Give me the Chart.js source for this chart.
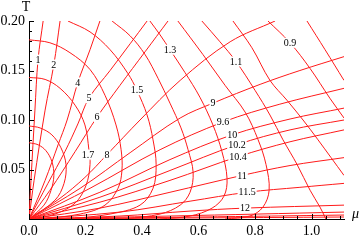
<!DOCTYPE html>
<html>
<head>
<meta charset="utf-8">
<script src="https://cdn.jsdelivr.net/npm/chart.js@4"></script>
<style>
  html, body { margin: 0; padding: 0; background: #fff; }
</style>
</head>
<body>
<canvas id="chart" width="360" height="240"></canvas>
<script>
// contour lines, points are [mu, T]
// lines fanning out of the origin
const ray1 = [[0, 0], [0.007, 0.039], [0.021, 0.110], [0.032, 0.161], [0.050, 0.200]];
const ray2 = [[0, 0], [0.018, 0.039], [0.057, 0.110], [0.088, 0.156], [0.110, 0.200]];
const ray4 = [[0, 0], [0.057, 0.039], [0.103, 0.075], [0.135, 0.100], [0.173, 0.138], [0.216, 0.171], [0.251, 0.200]];
const ray5 = [[0, 0], [0.067, 0.036], [0.127, 0.068], [0.173, 0.096], [0.212, 0.122], [0.287, 0.150], [0.358, 0.177], [0.418, 0.200]];
const ray6 = [[0, 0], [0.074, 0.029], [0.163, 0.068], [0.241, 0.103], [0.322, 0.135], [0.411, 0.169], [0.492, 0.200]];
const ray8 = [[0, 0], [0.110, 0.021], [0.198, 0.042], [0.276, 0.065], [0.393, 0.100], [0.535, 0.140], [0.712, 0.179], [0.871, 0.200]];
const ray9 = [[0, 0], [0.181, 0.031], [0.358, 0.067], [0.535, 0.102], [0.651, 0.117], [0.818, 0.136], [0.959, 0.150], [1.115, 0.164]];
const ray96 = [[0, 0], [0.216, 0.031], [0.464, 0.070], [0.687, 0.098], [0.888, 0.116], [1.115, 0.132]];
const ray10 = [[0, 0], [0.251, 0.027], [0.499, 0.060], [0.719, 0.085], [0.924, 0.101], [1.115, 0.112]];
const ray102 = [[0, 0], [0.251, 0.022], [0.499, 0.049], [0.736, 0.075], [0.924, 0.090], [1.115, 0.100]];
const ray104 = [[0, 0], [0.251, 0.017], [0.499, 0.039], [0.740, 0.063], [0.924, 0.078], [1.115, 0.090]];
const ray11 = [[0, 0], [0.251, 0.011], [0.499, 0.027], [0.754, 0.044], [0.924, 0.054], [1.115, 0.062]];
const ray115 = [[0, 0], [0.322, 0.007], [0.570, 0.018], [0.772, 0.027], [0.959, 0.032], [1.115, 0.036]];
const ray12 = [[0, 0], [0.322, 0.003], [0.570, 0.008], [0.765, 0.011], [1.115, 0.014]];
const ray13 = [[0, 0], [0.500, 0.003], [1.115, 0.007]];
const ray14 = [[0, 0], [0.600, 0.002], [1.115, 0.004]];
const ray15 = [[0, 0], [1.115, 0.002]];

// arcs bending back towards the mu axis
const arcA = [[0, 0.077], [0.032, 0.075], [0.060, 0.069], [0.081, 0.058], [0.088, 0.044], [0.078, 0.029], [0.053, 0.014], [0, 0]];
const arcB = [[0, 0.094], [0.039, 0.092], [0.081, 0.085], [0.113, 0.072], [0.131, 0.055], [0.124, 0.036], [0.092, 0.019], [0, 0]];
const arc17 = [[0, 0.143], [0.057, 0.141], [0.110, 0.132], [0.163, 0.115], [0.198, 0.095], [0.212, 0.070], [0.216, 0.055], [0.202, 0.034], [0.163, 0.016], [0.092, 0.005], [0.014, 0]];
const arc16 = [[0, 0.181], [0.074, 0.178], [0.145, 0.168], [0.216, 0.151], [0.269, 0.125], [0.308, 0.095], [0.326, 0.070], [0.329, 0.049], [0.315, 0.031], [0.269, 0.014], [0.181, 0.005], [0.039, 0]];
const arc15 = [[0.138, 0.200], [0.216, 0.189], [0.287, 0.171], [0.350, 0.147], [0.382, 0.130], [0.418, 0.105], [0.439, 0.080], [0.450, 0.055], [0.439, 0.031], [0.393, 0.014], [0.287, 0.005], [0.145, 0]];
const arc14 = [[0.294, 0.200], [0.358, 0.185], [0.411, 0.166], [0.457, 0.142], [0.499, 0.117], [0.538, 0.092], [0.563, 0.070], [0.581, 0.047], [0.570, 0.027], [0.535, 0.014], [0.464, 0.005], [0.340, 0]];
const arc13 = [[0.428, 0.200], [0.464, 0.186], [0.499, 0.171], [0.552, 0.148], [0.605, 0.123], [0.651, 0.095], [0.683, 0.068], [0.701, 0.041], [0.690, 0.023], [0.648, 0.011], [0.570, 0.003], [0.464, 0]];
const arc12 = [[0.527, 0.200], [0.616, 0.166], [0.694, 0.135], [0.765, 0.108], [0.811, 0.080], [0.839, 0.055], [0.850, 0.029], [0.828, 0.012], [0.782, 0.003], [0.694, 0]];
const arc11 = [[0.612, 0.200], [0.676, 0.179], [0.733, 0.159], [0.800, 0.130], [0.853, 0.105], [0.899, 0.080], [0.949, 0.055], [0.995, 0.029], [1.030, 0.012], [1.051, 0]];
const arc10 = [[0.722, 0.200], [0.789, 0.173], [0.853, 0.140], [0.913, 0.120], [0.970, 0.100], [1.023, 0.080], [1.115, 0.044]];
const arc09 = [[0.846, 0.200], [0.924, 0.178], [0.995, 0.152], [1.065, 0.122], [1.115, 0.102]];
const arc08 = [[0.984, 0.200], [1.048, 0.171], [1.115, 0.140]];

// contour labels
const labelText = ['1', '2', '4', '5', '6', '8', '1.7', '1.5', '1.3', '1.1', '0.9', '9', '9.6', '10', '10.2', '10.4', '11', '11.5', '12'];
const labelMu = [0.032, 0.088, 0.173, 0.212, 0.241, 0.276, 0.209, 0.382, 0.499, 0.733, 0.924, 0.651, 0.687, 0.719, 0.736, 0.740, 0.754, 0.772, 0.765];
const labelT = [0.161, 0.156, 0.138, 0.122, 0.103, 0.065, 0.065, 0.130, 0.171, 0.159, 0.178, 0.117, 0.098, 0.085, 0.075, 0.063, 0.044, 0.027, 0.011];

// axes
const xMajor = [0, 0.2, 0.4, 0.6, 0.8, 1.0];
const xTickLabels = ['0.0', '0.2', '0.4', '0.6', '0.8', '1.0'];
const yMajor = [0.05, 0.10, 0.15, 0.20];
const yTickLabels = ['0.05', '0.10', '0.15', '0.20'];

const serif = '"Liberation Serif", "Times New Roman", serif';

const xTicks = [];
for (let i = 0; i <= 22; i++) xTicks.push(i * 0.05);
const yTicks = [];
for (let i = 0; i <= 20; i++) yTicks.push(i * 0.01);

function majorIndex(v, majors) {
  return majors.findIndex(m => Math.abs(m - v) < 1e-6);
}

const curves = [ray1, ray2, ray4, ray5, ray6, ray8, ray9, ray96, ray10, ray102, ray104, ray11, ray115, ray12, ray13, ray14, ray15,
  arcA, arcB, arc17, arc16, arc15, arc14, arc13, arc12, arc11, arc10, arc09, arc08];

const datasets = curves.map(c => ({
  data: c.map(p => ({ x: p[0], y: p[1] })),
  showLine: true,
  borderColor: '#ff1a1a',
  borderWidth: 1,
  pointRadius: 0,
  tension: 0.35,
  fill: false
}));

// inward tick marks and axis names
const axisMarks = {
  id: 'axisMarks',
  afterDraw(chart) {
    const ctx = chart.ctx;
    const xs = chart.scales.x, ys = chart.scales.y;
    const area = chart.chartArea;
    ctx.save();
    ctx.strokeStyle = '#000';
    ctx.lineWidth = 1;
    ctx.beginPath();
    xTicks.forEach(v => {
      const px = Math.round(xs.getPixelForValue(v)) + 0.5;
      const len = majorIndex(v, xMajor) >= 0 ? 5 : 3;
      ctx.moveTo(px, area.bottom);
      ctx.lineTo(px, area.bottom - len);
    });
    yTicks.forEach(v => {
      const py = Math.round(ys.getPixelForValue(v)) + 0.5;
      const len = majorIndex(v, yMajor) >= 0 ? 5 : 3;
      ctx.moveTo(area.left, py);
      ctx.lineTo(area.left + len, py);
    });
    ctx.stroke();
    ctx.fillStyle = '#000';
    ctx.font = '14px ' + serif;
    ctx.textAlign = 'center';
    ctx.fillText('T', area.left - 3, area.top - 10);
    ctx.font = 'italic 14px ' + serif;
    ctx.textAlign = 'left';
    ctx.fillText('μ', area.right + 8, area.bottom - 1);
    ctx.restore();
  }
};

const contourLabels = {
  id: 'contourLabels',
  afterDatasetsDraw(chart) {
    const ctx = chart.ctx;
    const xs = chart.scales.x, ys = chart.scales.y;
    ctx.save();
    ctx.font = '10px ' + serif;
    ctx.textAlign = 'center';
    ctx.textBaseline = 'middle';
    labelText.forEach((txt, i) => {
      const px = xs.getPixelForValue(labelMu[i]);
      const py = ys.getPixelForValue(labelT[i]);
      const w = ctx.measureText(txt).width;
      ctx.fillStyle = '#fff';
      ctx.fillRect(px - w / 2 - 1, py - 5, w + 2, 10);
      ctx.fillStyle = '#000';
      ctx.fillText(txt, px, py + 0.5);
    });
    ctx.restore();
  }
};

new Chart(document.getElementById('chart'), {
  type: 'scatter',
  data: { datasets: datasets },
  options: {
    responsive: false,
    animation: false,
    devicePixelRatio: 1,
    layout: { padding: { top: 21, right: 16, left: 0, bottom: 0 } },
    plugins: { legend: { display: false }, tooltip: { enabled: false } },
    scales: {
      x: {
        type: 'linear',
        min: 0,
        max: 1.115,
        afterBuildTicks: s => { s.ticks = xTicks.map(v => ({ value: v })); },
        afterFit: s => { s.height = 21; },
        grid: { drawOnChartArea: false, drawTicks: false },
        border: { color: '#000', width: 1 },
        ticks: {
          padding: 4,
          autoSkip: false,
          maxRotation: 0,
          minRotation: 0,
          color: '#000',
          font: { family: serif, size: 14 },
          callback: v => { const i = majorIndex(v, xMajor); return i >= 0 ? xTickLabels[i] : ''; }
        }
      },
      y: {
        type: 'linear',
        min: 0,
        max: 0.2,
        afterBuildTicks: s => { s.ticks = yTicks.map(v => ({ value: v })); },
        afterFit: s => { s.width = 29; },
        grid: { drawOnChartArea: false, drawTicks: false },
        border: { color: '#000', width: 1 },
        ticks: {
          padding: 4,
          autoSkip: false,
          color: '#000',
          font: { family: serif, size: 14 },
          callback: v => { const i = majorIndex(v, yMajor); return i >= 0 ? yTickLabels[i] : ''; }
        }
      }
    }
  },
  plugins: [contourLabels, axisMarks]
});
</script>
</body>
</html>
